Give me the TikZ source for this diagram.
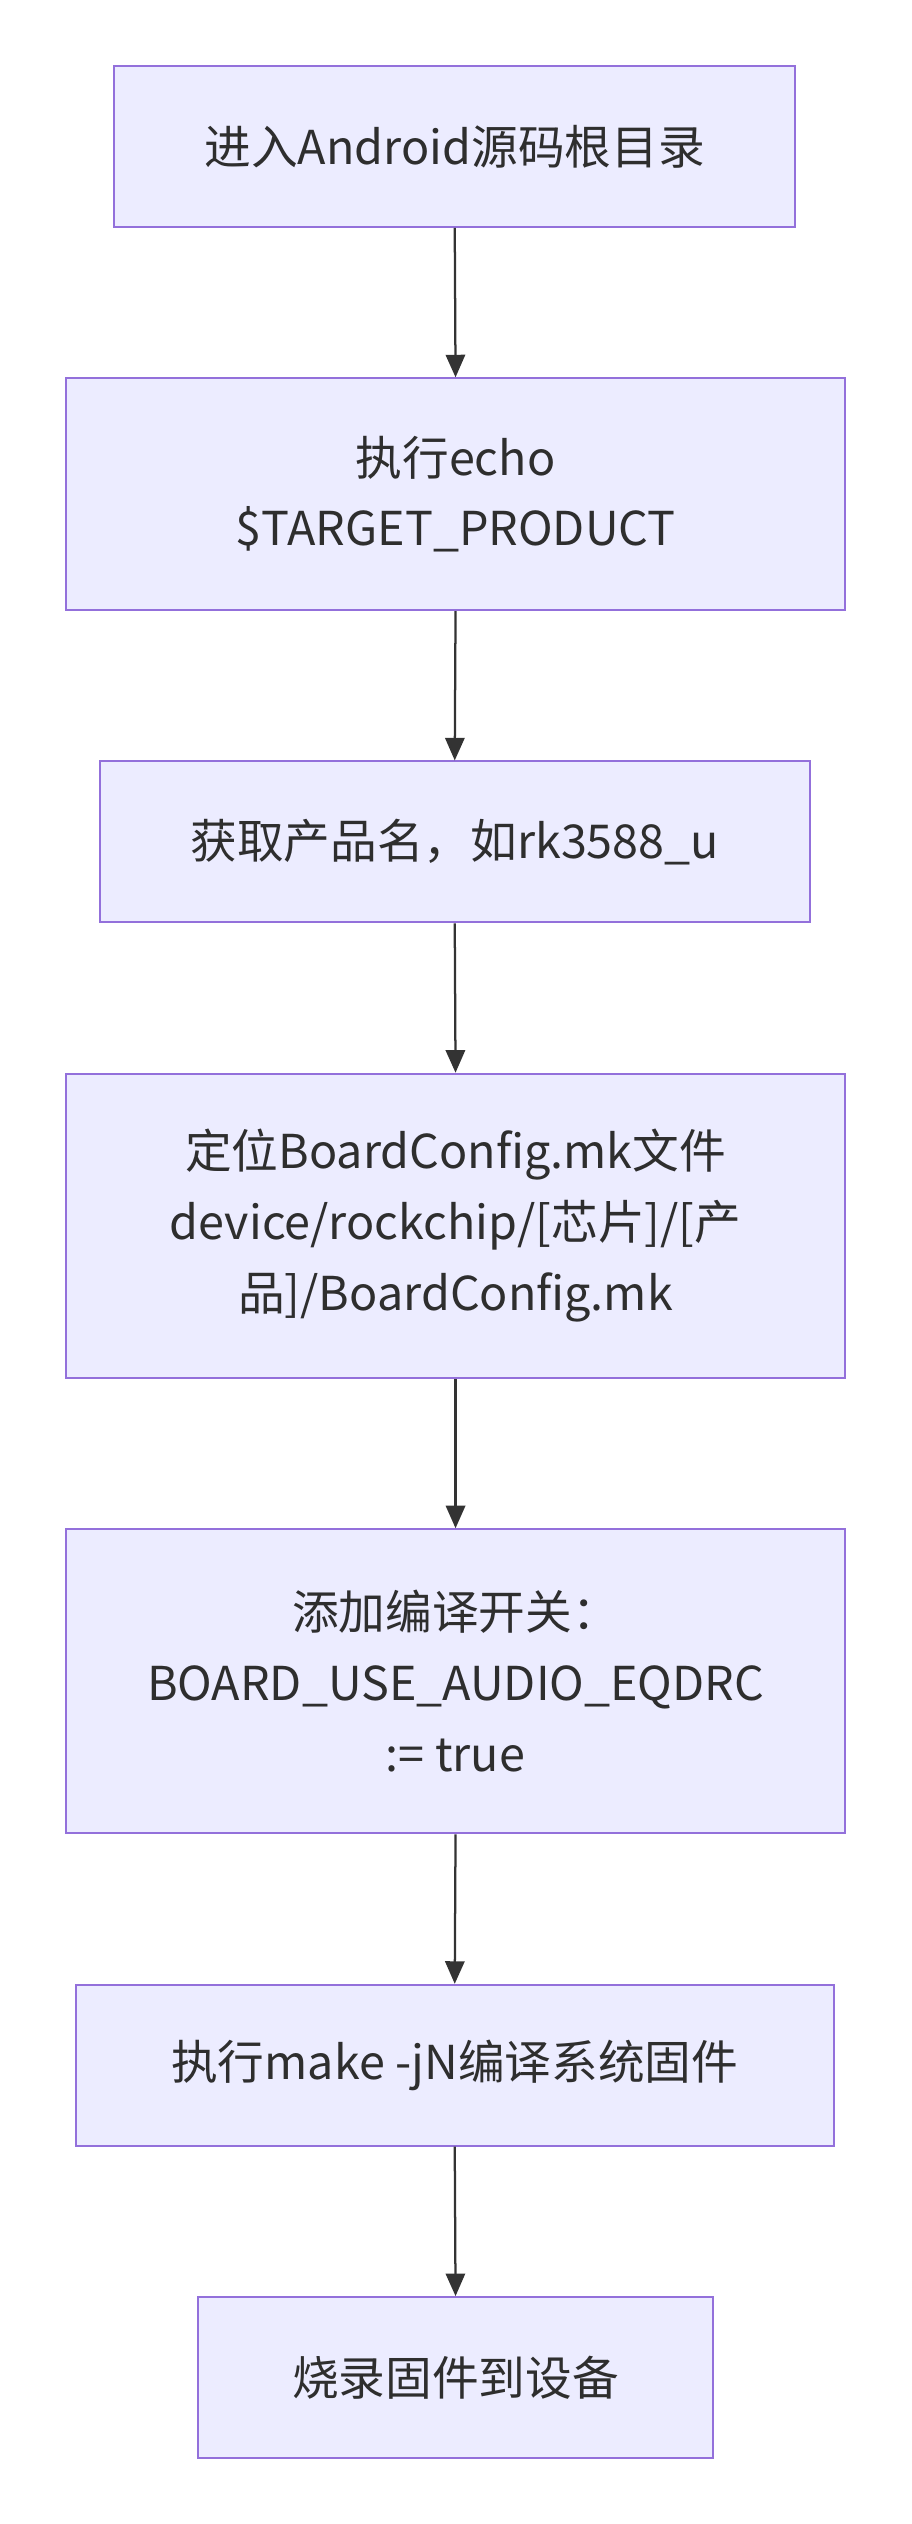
\documentclass[tikz,border=0pt]{standalone}
\usepackage{fontspec}
\setmainfont{Noto Sans CJK SC}
\usetikzlibrary{arrows.meta}
\definecolor{bfill}{HTML}{ECECFF}
\definecolor{bdraw}{HTML}{9370DB}
\definecolor{arr}{HTML}{333333}
\begin{document}
\begin{tikzpicture}[x=1pt,y=1pt,
  box/.style={draw=bdraw,fill=bfill,line width=1.2pt,align=center,text=arr!90!black,
    font=\fontsize{29}{44}\selectfont,inner sep=0pt},
  ar/.style={draw=arr,line width=1.4pt,-{Triangle[length=14pt,width=12pt]}}]
\useasboundingbox (0,0) rectangle (566,-1568);
\def\bx#1#2#3#4#5#6{\node[box,minimum width=#3-#2,minimum height=#5-#4] (#1) at ({(#2+#3)/2},{-(#4+#5)/2}) {#6};}
\bx{a}{71}{494}{41}{141}{进入Android源码根目录}
\bx{b}{41}{525}{235}{379}{执行echo\\\$TARGET\_PRODUCT}
\bx{c}{62}{503}{473}{573}{获取产品名，如rk3588\_u}
\bx{d}{41}{525}{667}{856}{定位BoardConfig.mk文件\\device/rockchip/[芯片]/[产\\品]/BoardConfig.mk}
\bx{e}{41}{525}{950}{1139}{添加编译开关：\\BOARD\_USE\_AUDIO\_EQDRC\\:= true}
\bx{f}{47}{518}{1233}{1333}{执行make -jN编译系统固件}
\bx{g}{123}{443}{1427}{1527}{烧录固件到设备}
\foreach \u/\v in {a/b,b/c,c/d,d/e,e/f,f/g}
  \draw[ar] (\u.south) -- (\v.north);
\end{tikzpicture}
\end{document}
